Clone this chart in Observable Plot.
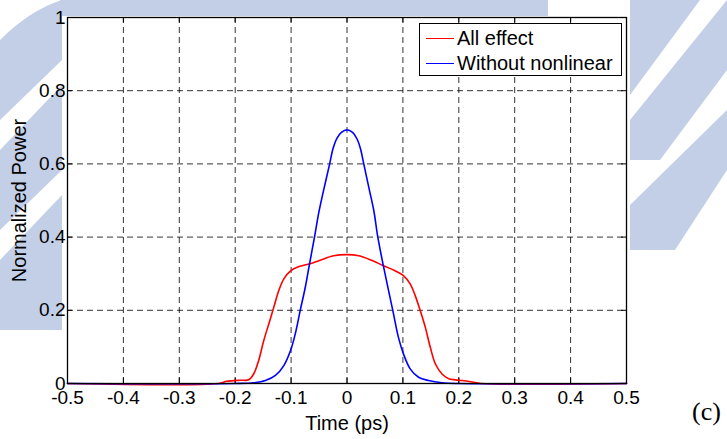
<!DOCTYPE html>
<html>
<head>
<meta charset="utf-8">
<script src="https://cdn.jsdelivr.net/npm/d3@7"></script>
<script src="https://cdn.jsdelivr.net/npm/@observablehq/plot@0.6"></script>
<style>
  html, body { margin: 0; padding: 0; background: #fff; }
  #wrap { position: relative; width: 727px; height: 439px; overflow: hidden; font-family: "Liberation Sans", Arial, sans-serif; }
  #wrap svg { position: absolute; left: 0; top: 0; }
  .legend { position: absolute; left: 419px; top: 23px; width: 201px; height: 51px; border: 1px solid #000; background: #fff; }
  .legend .row { position: absolute; left: 0; height: 24px; display: flex; align-items: center; font-size: 20px; color: #000; white-space: nowrap; }
  .legend .swatch { width: 28px; height: 0; border-top: 1.5px solid; margin: 0 3px 0 6px; }
  .panel { position: absolute; left: 692px; top: 397px; font-family: "Liberation Serif", "Times New Roman", serif; font-size: 26px; color: #000; }
</style>
</head>
<body>
<div id="wrap">
  <!-- faint page watermark behind the figure -->
  <svg width="727" height="439" style="position:absolute;left:0;top:0">
    <g fill="#c2cfe7">
      <path d="M60,0 L548,0 L548,16 L60,16 Z"/>
      <path d="M0,40 Q30,10 62,0 L62,330 L0,330 Z"/>
      <path d="M630,0 L700,0 L630,95 Z"/>
      <path d="M727,0 L727,70 L660,160 L630,160 L630,120 Z"/>
      <path d="M727,110 L727,170 L675,250 L630,250 L630,205 Z"/>
    </g>
    <g fill="#fff">
      <path d="M0,120 L62,60 L62,85 L0,150 Z"/>
      <path d="M0,230 L62,170 L62,195 L0,260 Z"/>
    </g>
  </svg>
</div>
<script>
// Pulse power envelopes over time (ps)
const allEffectTime  = [-0.5, -0.23, -0.215, -0.19, -0.176, -0.167, -0.158, -0.149, -0.138, -0.131, -0.122, -0.113, -0.101, -0.087, -0.066, -0.048, -0.024, 0, 0.021, 0.045, 0.065, 0.086, 0.101, 0.113, 0.122, 0.131, 0.140, 0.149, 0.158, 0.170, 0.182, 0.194, 0.206, 0.224, 0.24, 0.5];
const allEffectPower = [0, 0, 0.006, 0.009, 0.010, 0.026, 0.063, 0.117, 0.172, 0.208, 0.254, 0.286, 0.308, 0.319, 0.327, 0.337, 0.349, 0.352, 0.349, 0.336, 0.322, 0.308, 0.295, 0.272, 0.240, 0.199, 0.154, 0.099, 0.054, 0.026, 0.013, 0.010, 0.008, 0.004, 0, 0];

const linearTime  = [-0.5, -0.2, -0.167, -0.146, -0.128, -0.113, -0.101, -0.0925, -0.0835, -0.0746, -0.067, -0.058, -0.051, -0.042, -0.031, -0.025, -0.018, -0.01, 0, 0.01, 0.018, 0.024, 0.030, 0.039, 0.048, 0.055, 0.065, 0.082, 0.092, 0.101, 0.113, 0.128, 0.146, 0.170, 0.2, 0.5];
const linearPower = [0, 0, 0.002, 0.008, 0.022, 0.049, 0.090, 0.136, 0.201, 0.263, 0.327, 0.401, 0.463, 0.527, 0.600, 0.642, 0.670, 0.686, 0.693, 0.686, 0.668, 0.642, 0.600, 0.536, 0.472, 0.401, 0.322, 0.199, 0.126, 0.081, 0.040, 0.017, 0.008, 0.002, 0, 0];

const xTicks = [-0.5, -0.4, -0.3, -0.2, -0.1, 0, 0.1, 0.2, 0.3, 0.4, 0.5];
const yTicks = [0, 0.2, 0.4, 0.6, 0.8, 1];

const seriesNames = ["All effect", "Without nonlinear"];
const seriesColors = ["#ff0000", "#0000ff"];

const allEffect = allEffectTime.map((t, i) => ({t, p: allEffectPower[i]}));
const linear = linearTime.map((t, i) => ({t, p: linearPower[i]}));

const fmt = v => (Math.abs(v) < 1e-9 ? "0" : String(+v.toFixed(1)));
const xIn = 0.009;   // inward tick length in x units
const yIn = 0.0145;  // inward tick length in y units
const innerX = xTicks.slice(1, -1);
const innerY = yTicks.slice(1, -1);

const chart = Plot.plot({
  width: 727,
  height: 439,
  marginLeft: 67,
  marginRight: 101,
  marginTop: 17,
  marginBottom: 56,
  style: {fontFamily: "'Liberation Sans', Arial, sans-serif", fontSize: "19px", background: "transparent", color: "#000"},
  x: {domain: [-0.5, 0.5]},
  y: {domain: [0, 1]},
  marks: [
    Plot.frame({fill: "#fff", stroke: "none"}),
    // dashed grid
    Plot.ruleX(innerX, {stroke: "#000", strokeOpacity: 0.8, strokeDasharray: "6,4", strokeWidth: 1}),
    Plot.ruleY(innerY, {stroke: "#000", strokeOpacity: 0.8, strokeDasharray: "6,4", strokeWidth: 1}),
    // inward ticks on all four sides
    Plot.ruleX(innerX, {y1: 0, y2: yIn, stroke: "#000"}),
    Plot.ruleX(innerX, {y1: 1, y2: 1 - yIn, stroke: "#000"}),
    Plot.ruleY(innerY, {x1: -0.5, x2: -0.5 + xIn, stroke: "#000"}),
    Plot.ruleY(innerY, {x1: 0.5, x2: 0.5 - xIn, stroke: "#000"}),
    Plot.line(allEffect, {x: "t", y: "p", stroke: seriesColors[0], strokeWidth: 1.6, curve: "catmull-rom"}),
    Plot.line(linear, {x: "t", y: "p", stroke: seriesColors[1], strokeWidth: 1.6, curve: "catmull-rom"}),
    Plot.frame({stroke: "#000", strokeWidth: 1.3}),
    Plot.axisX(xTicks, {tickSize: 0, tickPadding: 7, tickFormat: fmt, fontSize: 19, label: null}),
    Plot.axisY(yTicks, {tickSize: 0, tickPadding: 2, tickFormat: fmt, fontSize: 19, label: null}),
    Plot.text(["Time (ps)"], {frameAnchor: "bottom", dy: 46, fontSize: 20, lineAnchor: "bottom"}),
    Plot.text(["Normalized Power"], {frameAnchor: "left", dx: -48, rotate: -90, textAnchor: "middle", fontSize: 20})
  ]
});

const wrap = document.getElementById("wrap");
wrap.appendChild(chart);

// legend box
const legend = document.createElement("div");
legend.className = "legend";
seriesNames.forEach((name, i) => {
  const row = document.createElement("div");
  row.className = "row";
  row.style.top = (2 + i * 25) + "px";
  const sw = document.createElement("span");
  sw.className = "swatch";
  sw.style.borderColor = seriesColors[i];
  const label = document.createElement("span");
  label.textContent = name;
  row.appendChild(sw);
  row.appendChild(label);
  legend.appendChild(row);
});
wrap.appendChild(legend);

const panel = document.createElement("div");
panel.className = "panel";
panel.textContent = "(c)";
wrap.appendChild(panel);
</script>
</body>
</html>
